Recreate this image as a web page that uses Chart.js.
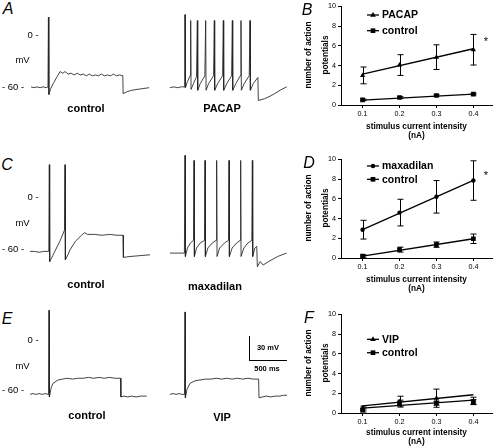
<!DOCTYPE html>
<html><head><meta charset="utf-8">
<script src="https://cdn.jsdelivr.net/npm/chart.js@4.4.0/dist/chart.umd.min.js"></script>
<style>
html,body{margin:0;padding:0;background:#fff;width:496px;height:448px;overflow:hidden;}
body{position:relative;font-family:"Liberation Sans",Arial,sans-serif;color:#000;}
canvas{position:absolute;}
.t{position:absolute;white-space:nowrap;line-height:1;transform:translate(-50%,-50%);}
.rot{transform:translate(-50%,-50%) rotate(-90deg);font-size:8.25px;font-weight:bold;}
.letter{font-style:italic;font-size:16px;}
.ax{font-size:9.5px;}
.lab{font-size:11px;font-weight:bold;}
.sb{font-size:7.5px;font-weight:bold;}
.star{font-size:11px;}
.bar{position:absolute;background:#000;}
</style></head><body>
<canvas id="trA1" width="122" height="110"></canvas>
<canvas id="trA2" width="122" height="110"></canvas>
<canvas id="trC1" width="122" height="140"></canvas>
<canvas id="trC2" width="122" height="140"></canvas>
<canvas id="trE1" width="122" height="120"></canvas>
<canvas id="trE2" width="122" height="120"></canvas>
<canvas id="chB" width="200" height="145"></canvas>
<canvas id="chD" width="200" height="145"></canvas>
<canvas id="chF" width="200" height="140"></canvas>
<div class="bar" style="left:249px;top:336px;width:1px;height:25px;"></div>
<div class="bar" style="left:249px;top:360px;width:38px;height:1px;"></div>
<script>
// ---------- data: summary plots ----------
const xCurrent = [0.1, 0.2, 0.3, 0.4];
const xTicks = [0.1, 0.2, 0.3, 0.4];
const yTicks = [0, 2, 4, 6, 8, 10];
const fitX = [0.1, 0.4];
const yTitleLines = ['number of action', 'potentials'];
const xTitleLines = ['stimulus current intensity', '(nA)'];

const pacapMean = [3.0, 4.05, 4.85, 5.6];
const pacapErr  = [0.85, 1.05, 1.25, 1.55];
const pacapFit  = [3.12, 5.7];
const ctrlBMean = [0.52, 0.76, 0.96, 1.1];
const ctrlBErr  = [0.08, 0.08, 0.08, 0.08];
const ctrlBFit  = [0.5, 1.1];

const maxaMean = [2.87, 4.6, 6.2, 7.85];
const maxaErr  = [0.95, 1.35, 1.65, 2.0];
const maxaFit  = [2.87, 7.87];
const ctrlDMean = [0.2, 0.85, 1.35, 1.95];
const ctrlDErr  = [0.12, 0.25, 0.27, 0.48];
const ctrlDFit  = [0.2, 1.95];

const vipMean = [0.5, 1.15, 1.5, 1.25];
const vipErr  = [0.2, 0.55, 0.92, 0.35];
const vipFit  = [0.72, 1.85];
const ctrlFMean = [0.3, 1.0, 1.0, 1.1];
const ctrlFErr  = [0.2, 0.3, 0.2, 0.25];
const ctrlFFit  = [0.5, 1.3];

// ---------- data: voltage traces [ms, mV] ----------
const traceCtrlA = [[0,-61],[40,-62],[80,-61],[120,-62],[160,-61],[200,-62],[224,-61],[230,21],[236,-70],[260,-63],[300,-56],[345,-49],[383,-43],[420,-45],[450,-43],[490,-46],[530,-45],[570,-47],[610,-45],[650,-47],[690,-46],[730,-48],[770,-46],[810,-48],[850,-47],[890,-48],[930,-46],[970,-48],[1010,-47],[1050,-48],[1090,-46],[1130,-48],[1170,-47],[1212,-48],[1216,-69],[1260,-67],[1330,-65],[1400,-64],[1480,-63],[1560,-62]];
const tracePacap = [[0,-62],[50,-61],[100,-62],[150,-61],[195,-61],
 [198,24],[203,-62],[230,-55],[265,-48],
 [273,17],[278,-64],[310,-57],[350,-49],
 [361,17],[366,-65],[400,-57],[460,-48],
 [471,17],[476,-65],[510,-57],[575,-48],
 [585,17],[590,-65],[630,-57],[694,-48],
 [704,17],[709,-65],[750,-57],[813,-48],
 [823,17],[828,-65],[870,-57],[927,-48],
 [937,17],[942,-65],[980,-57],[1046,-48],
 [1056,17],[1061,-65],[1100,-57],[1160,-50],
 [1166,-77],[1250,-75],[1320,-72],[1400,-68],[1452,-65],[1540,-61]];
const traceCtrlC = [[0,-64],[60,-64],[120,-65],[180,-64],[248,-64],[255,38],[260,-76],[300,-69],[350,-60],[400,-51],[455,-39],[462,38],[467,-74],[500,-68],[530,-62],[600,-52],[680,-45],[720,-42],[760,-44],[850,-44],[950,-45],[1050,-44],[1150,-45],[1228,-45],[1233,-71],[1320,-70],[1450,-69],[1584,-68]];
const traceMaxa = [[0,-66],[60,-66],[120,-66],[190,-66],
 [198,49],[203,-70],[230,-60],[270,-54],[310,-51],
 [317,43],[322,-70],[350,-60],[400,-54],[455,-51],
 [462,43],[467,-70],[500,-60],[560,-54],[609,-51],
 [616,43],[621,-70],[655,-60],[720,-54],[772,-51],
 [779,43],[784,-70],[820,-60],[880,-54],[926,-51],
 [933,43],[938,-70],[975,-60],[1030,-54],[1080,-51],
 [1087,43],[1092,-70],[1120,-60],[1145,-58],
 [1153,-82],[1190,-76],[1230,-80],[1320,-75],[1420,-70],[1540,-66]];
const traceCtrlE = [[0,-64],[40,-63],[80,-64],[120,-63],[160,-64],[200,-63],[245,-64],[251,35],[256,-67],[280,-56],[304,-51],[370,-47],[430,-46],[490,-45],[560,-46],[630,-45],[700,-45],[770,-44],[840,-45],[910,-44],[980,-45],[1050,-44],[1120,-45],[1195,-45],[1200,-67],[1240,-66],[1290,-67],[1340,-66],[1400,-67],[1460,-66],[1540,-66]];
const traceVip = [[0,-64],[40,-63],[80,-64],[120,-63],[160,-64],[192,-64],[198,33],[203,-68],[225,-58],[264,-51],[330,-48],[396,-47],[470,-46],[540,-46],[610,-45],[680,-46],[750,-45],[820,-46],[890,-45],[960,-46],[1030,-45],[1100,-46],[1170,-46],[1175,-68],[1220,-67],[1270,-66],[1330,-67],[1390,-66],[1450,-66],[1500,-65],[1545,-65]];

const FONT = '"Liberation Sans", Arial, sans-serif';
Chart.defaults.font.family = FONT;
Chart.defaults.color = '#000';

// ---------- text labels ----------
function label(text, x, y, cls) {
  const d = document.createElement('div');
  d.className = 't ' + cls; d.textContent = text;
  d.style.left = x + 'px'; d.style.top = y + 'px';
  document.body.appendChild(d);
}
[['A',8,9],['B',307,10],['C',7,165],['D',309,163],['E',7,319],['F',309,318]].forEach(a=>label(a[0],a[1],a[2],'letter'));
[[35,60,87],[197,223,249],[340,366,390]].forEach(r=>{
  label('0 -',33,r[0],'ax'); label('mV',22.5,r[1],'ax'); label('- 60 -',13,r[2],'ax');
});
label('control',86,108,'lab'); label('PACAP',222,108,'lab');
label('control',86,284,'lab'); label('maxadilan',215,286,'lab');
label('control',87,415,'lab'); label('VIP',222,417,'lab');
label('30 mV',268,348,'sb'); label('500 ms',267,369,'sb');
label('*',486,41,'star'); label('*',486,175,'star');
[55, 208, 363].forEach(cy => { label(yTitleLines[0], 309, cy, 'rot'); label(yTitleLines[1], 326, cy, 'rot'); });

// ---------- traces ----------
const K = 0.85;     // px per mV
const MSPX = 13.2;  // ms per px
function traceChart(id, left, top, w, h, zeroPx, data) {
  const cv = document.getElementById(id);
  cv.style.left = left + 'px'; cv.style.top = top + 'px';
  cv.style.width = w + 'px'; cv.style.height = h + 'px';
  new Chart(cv, {
    type: 'line',
    data: { datasets: [{ data: data.map(p => ({x: p[0], y: p[1]})), borderColor: '#222', borderWidth: 0.85, pointRadius: 0, tension: 0, fill: false }] },
    options: {
      responsive: false, animation: false, events: [],
      plugins: { legend: { display: false }, tooltip: { enabled: false } },
      layout: { padding: 0 },
      scales: {
        x: { type: 'linear', display: false, min: 0, max: w * MSPX },
        y: { type: 'linear', display: false, min: -(top + h - zeroPx) / K, max: (zeroPx - top) / K }
      }
    }
  });
}
traceChart('trA1', 31, 0, 122, 110, 35, traceCtrlA);
traceChart('trA2', 170, 0, 122, 110, 35, tracePacap);
traceChart('trC1', 30, 140, 122, 140, 197, traceCtrlC);
traceChart('trC2', 170, 140, 122, 140, 197, traceMaxa);
traceChart('trE1', 30, 290, 122, 120, 340, traceCtrlE);
traceChart('trE2', 170, 290, 122, 120, 340, traceVip);

// ---------- summary plots ----------
function drawMarker(ctx, style, x, y, r) {
  ctx.beginPath();
  if (style === 'triangle') {
    ctx.moveTo(x, y - r); ctx.lineTo(x + r * 0.95, y + r * 0.6); ctx.lineTo(x - r * 0.95, y + r * 0.6); ctx.closePath();
  } else if (style === 'rect') {
    const s = r * Math.SQRT1_2; ctx.rect(x - s, y - s, 2 * s, 2 * s);
  } else { ctx.arc(x, y, r, 0, Math.PI * 2); }
  ctx.fill();
}
const errorBars = {
  id: 'errorBars',
  afterDatasetsDraw(chart) {
    const ctx = chart.ctx, xs = chart.scales.x, ys = chart.scales.y;
    ctx.save(); ctx.strokeStyle = '#000'; ctx.lineWidth = 1;
    chart.data.datasets.forEach(ds => {
      if (!ds.errors) return;
      ds.data.forEach((p, i) => {
        const e = ds.errors[i];
        const px = Math.round(xs.getPixelForValue(p.x)) + 0.5;
        const t = ys.getPixelForValue(p.y + e), b = ys.getPixelForValue(Math.max(0, p.y - e));
        ctx.beginPath();
        ctx.moveTo(px, t); ctx.lineTo(px, b);
        ctx.moveTo(px - 3, t); ctx.lineTo(px + 3, t);
        ctx.moveTo(px - 3, b); ctx.lineTo(px + 3, b);
        ctx.stroke();
      });
    });
    ctx.restore();
  }
};
const customLegend = {
  id: 'customLegend',
  afterDraw(chart, args, opts) {
    const ctx = chart.ctx; ctx.save();
    const items = chart.data.datasets.filter(d => d.legend);
    items.forEach((ds, i) => {
      const y = opts.ys[i];
      ctx.strokeStyle = '#000'; ctx.fillStyle = '#000'; ctx.lineWidth = 1.3;
      ctx.beginPath(); ctx.moveTo(opts.x0, y); ctx.lineTo(opts.x1, y); ctx.stroke();
      drawMarker(ctx, ds.pointStyle, (opts.x0 + opts.x1) / 2, y, ds.pointRadius);
      ctx.font = 'bold 10.5px ' + FONT; ctx.textBaseline = 'middle';
      ctx.fillText(ds.label, opts.tx, y + 0.5);
    });
    ctx.restore();
  }
};
function plotChart(id, top, h, xH, tickPad, titlePB, series, legendYs) {
  const cv = document.getElementById(id);
  cv.style.left = '296px'; cv.style.top = top + 'px';
  cv.style.width = '200px'; cv.style.height = h + 'px';
  const datasets = [];
  series.forEach(s => {
    datasets.push({ type: 'line', label: s.label + ' fit', data: fitX.map((x, i) => ({x, y: s.fit[i]})), borderColor: '#000', borderWidth: 1.3, pointRadius: 0, tension: 0 });
    datasets.push({ type: 'line', label: s.label, legend: true, data: xCurrent.map((x, i) => ({x, y: s.mean[i]})), errors: s.err,
      showLine: false, pointStyle: s.style, pointRadius: s.r, pointBackgroundColor: '#000', pointBorderColor: '#000', pointBorderWidth: 0 });
  });
  new Chart(cv, {
    type: 'line',
    data: { datasets },
    plugins: [errorBars, customLegend],
    options: {
      responsive: false, animation: false, events: [],
      layout: { padding: { top: 4, right: 1, left: 0, bottom: 0 } },
      plugins: { legend: { display: false }, tooltip: { enabled: false },
        customLegend: { x0: 71, x1: 83, tx: 86, ys: legendYs } },
      scales: {
        x: {
          type: 'linear', min: 0.0416, max: 0.4504,
          afterBuildTicks: s => { s.ticks = xTicks.map(v => ({value: v})); },
          afterFit: s => { s.height = xH; },
          grid: { display: true, drawOnChartArea: false, drawTicks: true, tickLength: 3, color: '#000', lineWidth: 1 },
          border: { display: true, color: '#000', width: 1 },
          ticks: { font: { size: 7.2 }, color: '#000', padding: tickPad, maxRotation: 0, autoSkip: false, callback: v => Number(v).toFixed(1) },
          title: { display: true, text: xTitleLines, color: '#000',
            font: { size: 8.25, weight: 'bold', lineHeight: 1.1 }, padding: { top: 0, bottom: titlePB } }
        },
        y: {
          type: 'linear', min: 0, max: 10,
          afterBuildTicks: s => { s.ticks = yTicks.map(v => ({value: v})); },
          afterFit: s => { s.width = 45; },
          grid: { display: true, drawOnChartArea: false, drawTicks: true, tickLength: 3, color: '#000', lineWidth: 1 },
          border: { display: true, color: '#000', width: 1 },
          ticks: { font: { size: 7.2 }, color: '#000', padding: 2 },
          title: { display: false }
        }
      }
    }
  });
}
plotChart('chB', 0, 145, 40, 2, 4.5, [
  { label: 'PACAP', mean: pacapMean, err: pacapErr, fit: pacapFit, style: 'triangle', r: 3 },
  { label: 'control', mean: ctrlBMean, err: ctrlBErr, fit: ctrlBFit, style: 'rect', r: 3.3 }
], [15, 30.7]);
plotChart('chD', 153, 145, 40, 2, 4.5, [
  { label: 'maxadilan', mean: maxaMean, err: maxaErr, fit: maxaFit, style: 'circle', r: 2.2 },
  { label: 'control', mean: ctrlDMean, err: ctrlDErr, fit: ctrlDFit, style: 'rect', r: 3.3 }
], [13, 26.3]);
plotChart('chF', 308, 140, 35, 2, 1.5, [
  { label: 'VIP', mean: vipMean, err: vipErr, fit: vipFit, style: 'triangle', r: 3 },
  { label: 'control', mean: ctrlFMean, err: ctrlFErr, fit: ctrlFFit, style: 'rect', r: 3.3 }
], [31.3, 44.7]);
</script>
</body></html>
